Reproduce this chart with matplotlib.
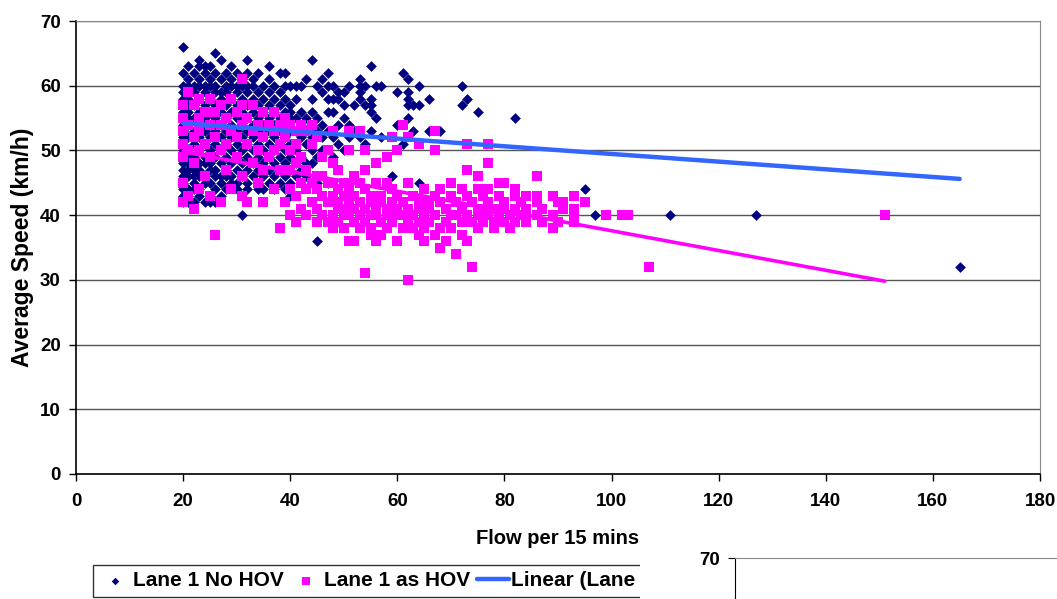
import numpy as np
import matplotlib.pyplot as plt
from matplotlib.patches import Rectangle

plt.rcParams['font.family'] = ['Liberation Sans', 'DejaVu Sans']
plt.rcParams['font.weight'] = 'bold'

# flow per 15 mins -> average speeds, Lane 1 No HOV
nohov = {
    20: [66, 62, 60, 59, 58, 57, 56, 55, 54, 53, 52, 51, 50, 49, 48, 47, 46, 45, 44, 43, 42],
    21: [63, 61, 60, 59, 58, 57, 56, 55, 54, 52, 50, 49, 48, 47, 46, 44, 43, 42],
    22: [62, 60, 59, 57, 55, 53, 51, 49, 48, 47, 46, 45, 44, 42],
    23: [64, 63, 61, 60, 58, 56, 54, 52, 50, 48, 47, 46, 44, 43],
    24: [63, 62, 60, 59, 57, 55, 53, 51, 49, 48, 46, 45, 42],
    25: [63, 61, 60, 58, 56, 54, 52, 50, 48, 47, 45, 43, 42],
    26: [65, 62, 60, 59, 57, 55, 53, 51, 49, 47, 46, 44, 42],
    27: [64, 61, 59, 58, 56, 54, 52, 50, 48, 46, 45, 43],
    28: [62, 60, 59, 57, 55, 53, 51, 49, 47, 46, 44],
    29: [63, 61, 60, 58, 56, 54, 52, 50, 48, 46, 45],
    30: [62, 60, 59, 57, 55, 53, 51, 49, 47, 45, 44],
    31: [61, 60, 58, 56, 54, 52, 50, 48, 46, 40],
    32: [64, 62, 60, 59, 57, 55, 53, 51, 49, 47, 45, 44],
    33: [61, 60, 58, 56, 54, 52, 50, 48, 46],
    34: [62, 59, 57, 55, 53, 51, 49, 47, 45, 44],
    35: [60, 58, 56, 54, 52, 50, 48, 46, 44],
    36: [63, 61, 59, 57, 55, 53, 51, 49, 47, 45],
    37: [60, 58, 56, 54, 52, 50, 48, 46, 44],
    38: [62, 59, 57, 55, 53, 51, 49, 47, 45],
    39: [62, 60, 58, 56, 54, 52, 50, 48, 46, 44],
    40: [60, 57, 56, 55, 53, 51, 49, 47, 45, 43],
    41: [60, 58, 55, 53, 50, 48, 46],
    42: [60, 56, 54, 52, 49, 47],
    43: [61, 55, 53, 51, 48, 46],
    44: [64, 58, 56, 54, 52, 50, 48],
    45: [60, 55, 53, 49, 45, 36],
    46: [61, 59, 54, 52, 50],
    47: [62, 60, 58, 56, 53, 45],
    48: [60, 58, 56, 52, 49],
    49: [59, 58, 54, 51],
    50: [59, 57, 55, 50],
    51: [60, 54, 52],
    52: [57, 53],
    53: [61, 60, 59, 58, 52],
    54: [60, 57, 51],
    55: [63, 58, 57, 56, 53],
    56: [60, 55],
    57: [60, 52],
    59: [46],
    60: [59, 54],
    61: [62, 51],
    62: [61, 59, 58, 57, 55],
    63: [57, 53],
    64: [60, 57, 45],
    66: [58, 53],
    68: [53],
    72: [60, 57],
    73: [58],
    75: [56],
    82: [55],
    95: [44],
    97: [40],
    111: [40],
    127: [40],
    165: [32],
}

# Lane 1 as HOV
hov = {
    20: [57, 55, 53, 51, 49, 45, 42],
    21: [59, 54, 50, 43],
    22: [57, 52, 48, 41],
    23: [58, 55, 53, 50, 44],
    24: [56, 51, 46],
    25: [58, 54, 49, 43],
    26: [56, 52, 37],
    27: [57, 54, 50, 42],
    28: [55, 51, 47],
    29: [58, 53, 44],
    30: [56, 52, 49],
    31: [61, 57, 54, 46, 43],
    32: [55, 51, 42],
    33: [57, 53, 48],
    34: [54, 50, 45],
    35: [56, 52, 47, 42],
    36: [54, 49],
    37: [56, 53, 50, 44],
    38: [54, 51, 47, 38],
    39: [55, 52, 42],
    40: [54, 50, 47, 44, 40],
    41: [53, 51, 48, 43, 39],
    42: [54, 49, 45, 41],
    43: [53, 47, 44, 40],
    44: [54, 51, 45, 42],
    45: [52, 46, 44, 41, 39],
    46: [49, 46, 43, 40],
    47: [50, 45, 42, 39],
    48: [53, 48, 45, 43, 40, 38],
    49: [47, 44, 42, 41, 39],
    50: [45, 43, 41, 40, 38],
    51: [53, 50, 44, 42, 40, 36],
    52: [46, 43, 41, 39, 36],
    53: [53, 45, 42, 40, 38],
    54: [50, 47, 44, 41, 39, 31],
    55: [43, 42, 40, 38, 37],
    56: [48, 45, 41, 40, 36],
    57: [43, 42, 39, 37],
    58: [49, 45, 41, 40, 38],
    59: [52, 44, 42, 39],
    60: [50, 43, 41, 40, 36],
    61: [54, 42, 40, 38],
    62: [52, 45, 41, 39, 30],
    63: [43, 40, 38],
    64: [51, 42, 41, 39, 37],
    65: [44, 40, 38, 36],
    66: [42, 41, 39],
    67: [53, 50, 43, 40, 37],
    68: [44, 42, 38, 35],
    69: [41, 39, 36],
    70: [45, 43, 40, 38],
    71: [42, 40, 34],
    72: [44, 41, 39, 37],
    73: [51, 47, 43, 40, 36],
    74: [42, 39, 32],
    75: [46, 44, 41, 40, 38],
    76: [43, 41, 39],
    77: [51, 48, 44, 42, 40],
    78: [41, 39, 38],
    79: [45, 43, 40],
    80: [45, 42, 41, 39],
    81: [40, 38],
    82: [44, 43, 41, 39],
    83: [42, 40],
    84: [43, 41, 39],
    86: [46, 43, 42, 40],
    87: [41, 39],
    89: [43, 40, 38],
    90: [42, 39],
    91: [42, 41],
    93: [43, 41, 40, 39],
    95: [42],
    99: [40],
    102: [40],
    103: [40],
    107: [32],
    151: [40],
}

# linear trend lines (end points)
trend_nohov_x = [20, 165]
trend_nohov_y = [54.2, 45.6]
trend_hov_x = [20, 151]
trend_hov_y = [49.8, 29.8]

nohov_flow = [f for f, ys in nohov.items() for _ in ys]
nohov_speed = [y for ys in nohov.values() for y in ys]
hov_flow = [f for f, ys in hov.items() for _ in ys]
hov_speed = [y for ys in hov.values() for y in ys]

fig = plt.figure(figsize=(10.57, 5.99), dpi=100)
ax = fig.add_axes([76/1057, 1-474/599, (1040-76)/1057, (474-21)/599])

ax.scatter(nohov_flow, nohov_speed, marker='D', s=30, color='#000080', linewidths=0, zorder=3,
           label='Lane 1 No HOV')
ax.scatter(hov_flow, hov_speed, marker='s', s=52, color='#ff00ff', linewidths=0, zorder=4,
           label='Lane 1 as HOV')
ax.plot(trend_nohov_x, trend_nohov_y, color='#3366ff', lw=3.2, zorder=5,
        label='Linear (Lane 1 No HOV)', solid_capstyle='round')
ax.plot(trend_hov_x, trend_hov_y, color='#ff00ff', lw=2.6, zorder=5,
        label='Linear (Lane 1 as HOV)', solid_capstyle='round')

ax.set_xlim(0, 180)
ax.set_ylim(0, 70)
ax.set_xticks(range(0, 181, 20))
ax.set_yticks(range(0, 71, 10))
ax.yaxis.grid(True, color='#555555', lw=1)
ax.set_axisbelow(True)
ax.tick_params(labelsize=13.5, length=5, width=1, direction='out', pad=6)
ax.tick_params(axis='x', pad=9)
for s in ['left', 'bottom']:
    ax.spines[s].set_color('black')
    ax.spines[s].set_linewidth(1.2)
for s in ['top', 'right']:
    ax.spines[s].set_color('#888888')

ax.set_xlabel('Flow per 15 mins', fontsize=14.5, fontweight='bold', labelpad=13)
ax.set_ylabel('Average Speed (km/h)', fontsize=16.5, fontweight='bold', labelpad=4)

leg = ax.legend(loc='upper left', bbox_to_anchor=(93/1057, 1-565/599), bbox_transform=fig.transFigure,
                ncol=4, fontsize=15, frameon=True, fancybox=False, edgecolor='black',
                handlelength=1.5, handletextpad=0.1, columnspacing=0.35, borderpad=0.3,
                markerscale=0.7, borderaxespad=0)
leg.get_frame().set_linewidth(1)

# next chart peeking in at the bottom right
fig.add_artist(Rectangle((640/1057, 0), 1, 0.09, transform=fig.transFigure,
                         facecolor='white', edgecolor='none', zorder=10))
ax2 = fig.add_axes([735/1057, -0.2, 0.31, 0.2 + 1-558/599], zorder=11)
ax2.set_ylim(0, 70)
ax2.set_xlim(0, 1)
ax2.set_yticks([70])
ax2.set_xticks([])
ax2.tick_params(labelsize=13.5, length=5, direction='out', pad=6)
ax2.spines['right'].set_visible(False)
ax2.spines['bottom'].set_visible(False)
ax2.spines['top'].set_color('#888888')

fig.savefig('out.png', dpi=100)
